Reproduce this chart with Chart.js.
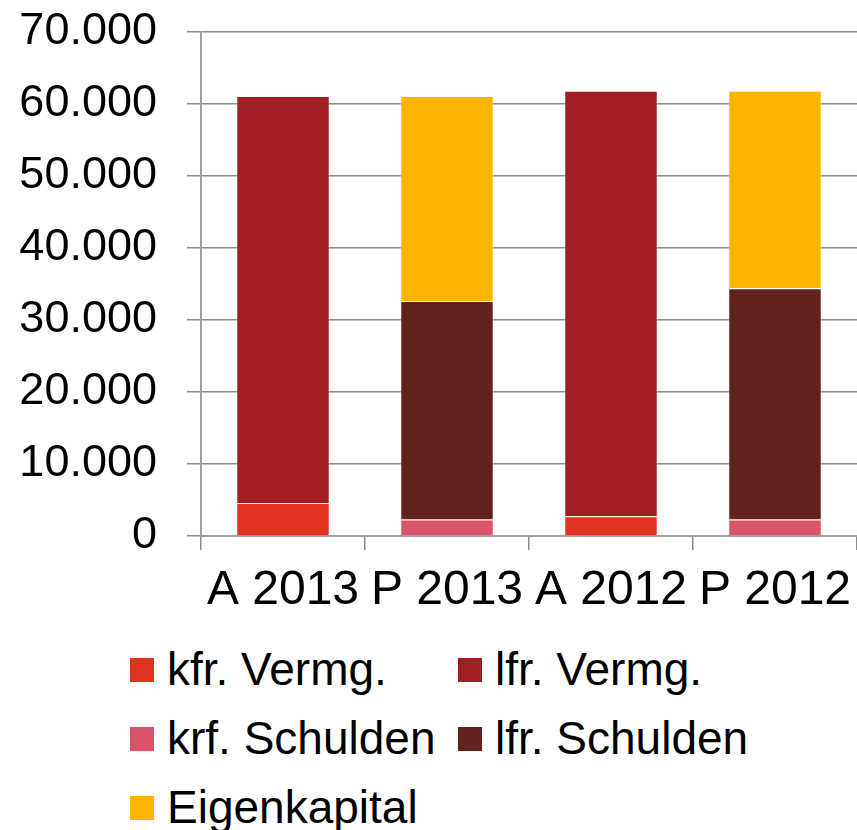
<!DOCTYPE html>
<html>
<head>
<meta charset="utf-8">
<script src="https://cdn.jsdelivr.net/npm/chart.js@4"></script>
<style>
  body { margin: 0; background: #fff; overflow: hidden; }
  #wrap { position: relative; width: 857px; height: 830px; }
  #box { position: absolute; left: 0; top: 0; width: 857px; height: 640px; }
  .lg { position: absolute; height: 60px; font-family: "Liberation Sans", Arial, sans-serif; font-size: 46px; line-height: 46px; color: #000; white-space: nowrap; }
  .lg i { position: absolute; left: 0; top: 12px; width: 24px; height: 24px; }
  .lg span { position: absolute; left: 37px; top: 0; }
</style>
</head>
<body>
<div id="wrap">
  <div id="box"><canvas id="myChart"></canvas></div>
  <div id="legend"></div>
</div>
<script>
const labels = ['A 2013', 'P 2013', 'A 2012', 'P 2012'];
const seriesNames = ['kfr. Vermg.', 'lfr. Vermg.', 'krf. Schulden', 'lfr. Schulden', 'Eigenkapital'];
const kfrVermg = [4600, null, 2750, null];
const lfrVermg = [56500, null, 59100, null];
const krfSchulden = [null, 2300, null, 2300];
const lfrSchulden = [null, 30350, null, 32100];
const eigenkapital = [null, 28450, null, 27450];
const colors = ['#E0321E', '#A11F22', '#DB536B', '#612220', '#FFB500'];
const yTicks = [0, 10000, 20000, 30000, 40000, 50000, 60000, 70000];

const fmt = v => String(v).replace(/\B(?=(\d{3})+(?!\d))/g, '.');
const font = 'Liberation Sans, Arial, sans-serif';

const ctx = document.getElementById('myChart');
const chart = new Chart(ctx, {
  type: 'bar',
  data: {
    labels: labels,
    datasets: [kfrVermg, lfrVermg, krfSchulden, lfrSchulden, eigenkapital].map((d, i) => ({
      label: seriesNames[i],
      data: d,
      backgroundColor: colors[i],
      borderColor: 'rgba(255,255,255,0.35)',
      borderWidth: 1,
      categoryPercentage: 1,
      barPercentage: 0.57
    }))
  },
  options: {
    responsive: true,
    maintainAspectRatio: false,
    animation: false,
    layout: { padding: { top: 32, right: 0, left: 0, bottom: 0 } },
    plugins: { legend: { display: false }, tooltip: { enabled: false } },
    scales: {
      x: {
        stacked: true,
        grid: { offset: true, drawOnChartArea: false, color: '#8c8c8c', lineWidth: 1.5, tickLength: 14 },
        border: { color: '#a0a0a0', width: 2 },
        ticks: { color: '#000', font: { family: font, size: 48 }, padding: 12, maxRotation: 0, autoSkip: false },
        afterFit: s => { s.height = 104; s.paddingLeft = 0; s.paddingRight = 0; }
      },
      y: {
        stacked: true,
        min: 0,
        max: 70000,
        afterBuildTicks: s => { s.ticks = yTicks.map(v => ({ value: v })); },
        grid: { color: '#8c8c8c', lineWidth: 1.5, tickLength: 14 },
        border: { color: '#a0a0a0', width: 2 },
        ticks: { color: '#000', font: { family: font, size: 45 }, padding: 30, callback: v => fmt(v) },
        afterFit: s => { s.width = 201; s.paddingTop = 0; s.paddingBottom = 0; }
      }
    }
  }
});

// legend in two columns, as in the original
const lg = document.getElementById('legend');
const pos = [[130, 646], [458, 646], [130, 715], [458, 715], [130, 784]];
chart.data.datasets.forEach((ds, i) => {
  const el = document.createElement('div');
  el.className = 'lg';
  el.style.left = pos[i][0] + 'px';
  el.style.top = pos[i][1] + 'px';
  el.innerHTML = '<i style="background:' + ds.backgroundColor + '"></i><span>' + ds.label + '</span>';
  lg.appendChild(el);
});
</script>
</body>
</html>
